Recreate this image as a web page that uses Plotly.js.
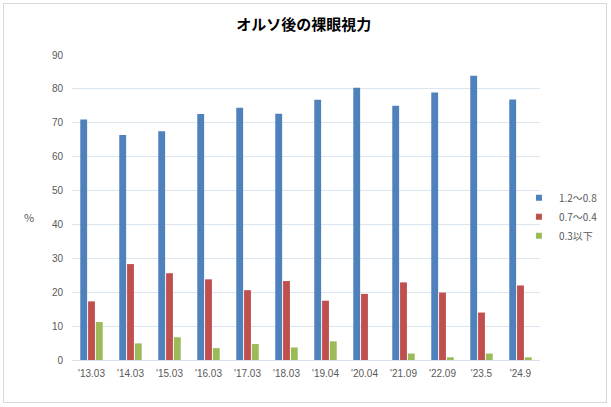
<!DOCTYPE html>
<html>
<head>
<meta charset="utf-8">
<script src="https://cdn.plot.ly/plotly-3.0.1.min.js"></script>
<style>
html,body{margin:0;padding:0;background:#fff;}
#wrap{position:relative;width:611px;height:407px;}
#chart{width:611px;height:407px;}
#frame{position:absolute;left:3px;top:3px;width:604px;height:400px;border:1px solid #D9D9D9;pointer-events:none;box-sizing:border-box;}
</style>
</head>
<body>
<div id="wrap"><div id="chart"></div><div id="frame"></div></div>
<script>
const categories = ["'13.03","'14.03","'15.03","'16.03","'17.03","'18.03","'19.04","'20.04","'21.09","'22.09","'23.5","'24.9"];
const seriesNames = ["1.2～0.8","0.7～0.4","0.3以下"];
const high = [71, 66.4, 67.5, 72.6, 74.4, 72.7, 76.8, 80.3, 75, 78.9, 83.9, 76.9];
const mid = [17.3, 28.3, 25.6, 23.8, 20.6, 23.3, 17.5, 19.5, 22.9, 19.9, 14, 22];
const low = [11.2, 4.9, 6.7, 3.5, 4.7, 3.7, 5.5, 0, 1.9, 0.8, 1.9, 0.8];
const colors = ["#4F81BD","#C0504D","#9BBB59"];

const bars = [high, mid, low].map((vals, i) => ({
  type: 'bar',
  x: categories,
  y: vals,
  name: seriesNames[i],
  marker: {color: colors[i]},
  showlegend: false,
  hoverinfo: 'skip'
}));
// legend-only entries with small square symbols
const legendEntries = seriesNames.map((n, i) => ({
  type: 'scatter', mode: 'markers',
  x: [null], y: [null],
  name: n,
  marker: {symbol: 'square', size: 6, color: colors[i]},
  showlegend: true,
  hoverinfo: 'skip'
}));

const layout = {
  width: 611, height: 407,
  margin: {l: 72, r: 71, t: 55, b: 47, autoexpand: false},
  paper_bgcolor: '#fff', plot_bgcolor: '#fff',
  font: {family: "'Noto Sans CJK JP', 'Liberation Sans', sans-serif", color: '#595959', size: 10},
  title: {text: '<b>オルソ後の裸眼視力</b>', x: 0.497, xanchor: 'center', y: 0.94, yanchor: 'middle',
          font: {family: "'Noto Sans CJK JP', sans-serif", size: 15, color: '#000'}},
  barmode: 'group',
  bargap: 0.4,
  bargroupgap: 0.12,
  xaxis: {
    type: 'category',
    categoryarray: categories, categoryorder: 'array',
    showgrid: false, zeroline: false,
    showline: true, linecolor: '#D9E1EA', linewidth: 1,
    ticks: '', tickfont: {size: 10, color: '#595959', family: "'Liberation Sans', sans-serif"},
    ticklabelstandoff: 4
  },
  yaxis: {
    range: [0, 90], dtick: 10, tick0: 0,
    showgrid: true, gridcolor: '#DCE6F0', gridwidth: 1,
    zeroline: false, showline: false, ticks: '',
    tickfont: {size: 10, color: '#595959', family: "'Liberation Sans', sans-serif"},
    ticklabelstandoff: 8
  },
  legend: {
    x: 0.955, xanchor: 'left', y: 0.47, yanchor: 'middle',
    font: {size: 10, color: '#595959', family: "'Noto Sans CJK JP', sans-serif"},
    itemwidth: 30, tracegroupgap: 0,
    bgcolor: 'rgba(0,0,0,0)'
  },
  annotations: [{
    text: '%', xref: 'paper', yref: 'paper', x: -0.107, y: 0.47,
    showarrow: false, font: {size: 11, color: '#595959'}
  }],
  showlegend: true
};

Plotly.newPlot('chart', bars.concat(legendEntries), layout, {staticPlot: true, displayModeBar: false});
</script>
</body>
</html>
